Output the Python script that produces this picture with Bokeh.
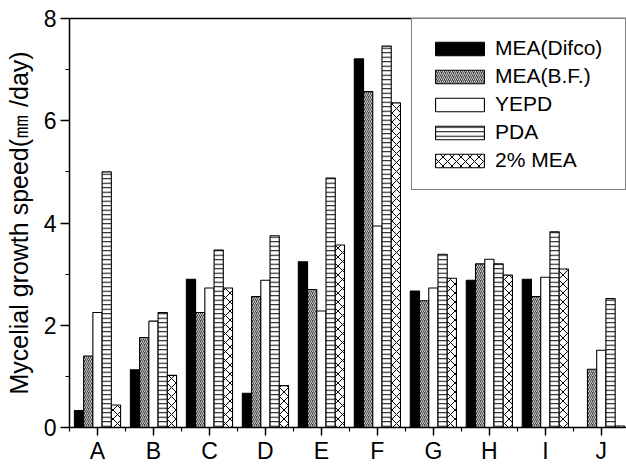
from bokeh.plotting import figure
from bokeh.models import Range1d, FixedTicker, LinearAxis, Legend, LegendItem
from bokeh.embed import file_html
from bokeh.resources import INLINE

categories = ["A", "B", "C", "D", "E", "F", "G", "H", "I", "J"]
mea_difco = [0.33, 1.13, 2.90, 0.67, 3.24, 7.21, 2.67, 2.88, 2.90, 0.0]
mea_bf = [1.40, 1.76, 2.25, 2.56, 2.70, 6.57, 2.48, 3.20, 2.56, 1.14]
yepd = [2.25, 2.08, 2.73, 2.88, 2.28, 3.94, 2.73, 3.29, 2.94, 1.51]
pda = [5.00, 2.25, 3.47, 3.75, 4.88, 7.46, 3.39, 3.20, 3.83, 2.52]
mea_2pct = [0.44, 1.02, 2.73, 0.82, 3.57, 6.35, 2.92, 2.98, 3.10, 0.03]
series_names = ["MEA(Difco)", "MEA(B.F.)", "YEPD", "PDA", "2% MEA"]
y_ticks = [0, 2, 4, 6, 8]
y_minor = [1, 3, 5, 7]

FONT = "Liberation Sans"

p = figure(width=626, height=466, output_backend="svg", toolbar_location=None,
           x_range=Range1d(-0.5, 9.45), y_range=Range1d(0, 8),
           min_border_left=69, min_border_right=0, min_border_top=18,
           min_border_bottom=39)
p.outline_line_color = None
p.xgrid.visible = False
p.ygrid.visible = False
p.background_fill_color = "white"
p.border_fill_color = "white"

x_pos = list(range(len(categories)))
bar_w = 0.165
styles = [
    dict(fill_color="black"),
    dict(fill_color="#454545", hatch_pattern="/", hatch_color="#cfcfcf",
         hatch_scale=4, hatch_weight=1),
    dict(fill_color="white"),
    dict(fill_color="white", hatch_pattern="-", hatch_color="black",
         hatch_scale=4.5, hatch_weight=1),
    dict(fill_color="white", hatch_pattern="x", hatch_color="black",
         hatch_scale=9, hatch_weight=1),
]
data_series = [mea_difco, mea_bf, yepd, pda, mea_2pct]
items = []
for i, (vals, name, st) in enumerate(zip(data_series, series_names, styles)):
    off = (i - 2) * bar_w
    r = p.vbar(x=[xx + off for xx in x_pos], top=vals, bottom=0, width=bar_w,
               line_color="black", line_width=1.1, **st)
    items.append(LegendItem(label=name, renderers=[r]))

legend = Legend(items=items, location="top_right")
legend.margin = 0
legend.padding = 17
legend.spacing = 4
legend.glyph_width = 61
legend.glyph_height = 17
legend.label_height = 17
legend.label_width = 113
legend.label_standoff = 5
legend.label_text_font = FONT
legend.label_text_font_size = "21px"
legend.label_text_color = "black"
legend.border_line_color = "black"
legend.border_line_width = 1.3
legend.background_fill_alpha = 1
p.add_layout(legend, "center")

# x axis
xa = p.xaxis[0]
xa.ticker = FixedTicker(ticks=x_pos,
                        minor_ticks=[v - 0.5 for v in x_pos] + [len(x_pos) - 0.5])
xa.major_label_overrides = {i: c for i, c in enumerate(categories)}
xa.major_label_text_font = FONT
xa.major_label_text_font_size = "23px"
xa.major_label_text_color = "black"
xa.major_label_standoff = 2
xa.major_tick_out = 8
xa.major_tick_in = 0
xa.minor_tick_out = 4
xa.minor_tick_in = 0
xa.axis_line_width = 1.5
xa.major_tick_line_width = 1.5
xa.minor_tick_line_width = 1.2

# y axis
ya = p.yaxis[0]
ya.ticker = FixedTicker(ticks=y_ticks, minor_ticks=y_minor)
ya.major_label_text_font = FONT
ya.major_label_text_font_size = "23px"
ya.major_label_text_color = "black"
ya.major_label_standoff = 4
ya.major_tick_out = 9
ya.major_tick_in = 0
ya.minor_tick_out = 4
ya.minor_tick_in = 0
ya.axis_line_width = 1.5
ya.major_tick_line_width = 1.5
ya.minor_tick_line_width = 1.2
ya.axis_label = "Mycelial growth speed(\u339c /day)"
ya.axis_label_text_font = FONT
ya.axis_label_text_font_size = "25px"
ya.axis_label_text_font_style = "normal"
ya.axis_label_text_color = "black"
ya.axis_label_standoff = 8

# top frame line
top = LinearAxis(ticker=FixedTicker(ticks=[], minor_ticks=[]),
                 major_label_text_font_size="0px", axis_line_width=1.5,
                 major_tick_line_color=None, minor_tick_line_color=None)
p.add_layout(top, "above")

open("out.html", "w").write(file_html(p, INLINE))
